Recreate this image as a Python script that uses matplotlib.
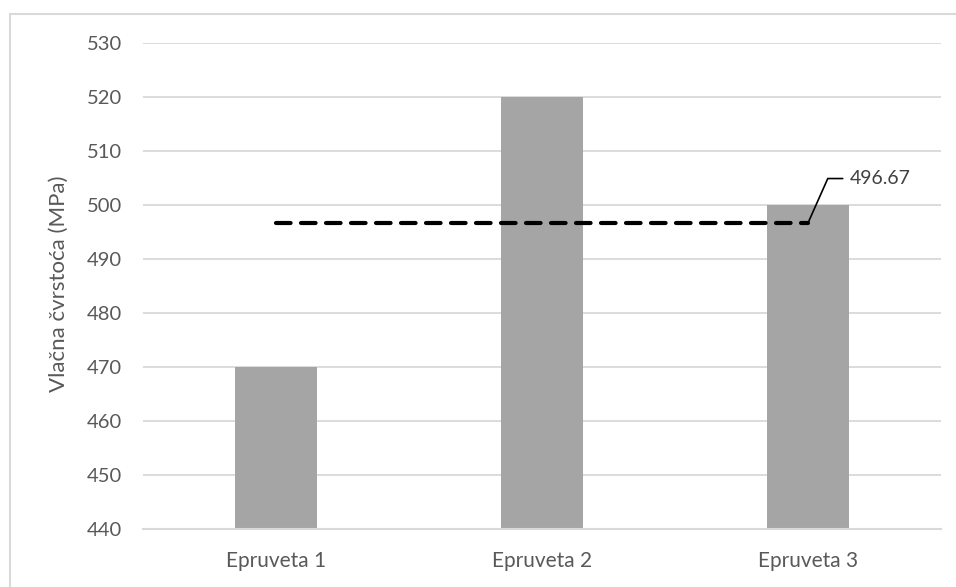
import matplotlib.pyplot as plt
from matplotlib.patches import Rectangle

categories = ["Epruveta 1", "Epruveta 2", "Epruveta 3"]
strength = [470, 520, 500]
average = 496.67
y_ticks = [440, 450, 460, 470, 480, 490, 500, 510, 520, 530]

plt.rcParams['font.family'] = ['Lato', 'DejaVu Sans']

fig = plt.figure(figsize=(9.56, 5.87), dpi=100)
fig.patch.set_facecolor("white")

# outer chart border (only top and left visible in the reference, rest is cropped)
fig.patches.append(Rectangle((10 / 956, -0.1), 1.2, 1 - 14 / 587 + 0.1,
                             transform=fig.transFigure, fill=False,
                             edgecolor="#d9d9d9", linewidth=1.5, zorder=0))

ax = fig.add_axes([143 / 956, 1 - 529 / 587, 798 / 956, 486 / 587])

x = list(range(len(categories)))
ax.bar(x, [v - y_ticks[0] for v in strength], bottom=y_ticks[0], width=0.31,
       color="#a5a5a5", zorder=2)

ax.plot([x[0], x[-1]], [average, average], color="black", linewidth=3,
        linestyle=(0, (3.5, 2.5)), dash_capstyle="round", zorder=3)

ax.annotate("%.2f" % average, xy=(x[-1], average), xytext=(30, 32),
            textcoords="offset points", ha="left", va="center",
            fontsize=14, color="#404040",
            arrowprops=dict(arrowstyle="-", color="black", linewidth=1.2,
                            shrinkA=3, shrinkB=0,
                            connectionstyle="angle,angleA=0,angleB=66,rad=0"))

ax.set_xlim(-0.5, 2.5)
ax.set_ylim(y_ticks[0], y_ticks[-1])
ax.set_yticks(y_ticks)
ax.set_xticks(x)
ax.set_xticklabels(categories)
ax.grid(axis="y", color="#d9d9d9", linewidth=1.3, zorder=0)
ax.set_axisbelow(True)

for side in ["top", "right", "left"]:
    ax.spines[side].set_visible(False)
ax.spines["bottom"].set_color("#d9d9d9")
ax.spines["bottom"].set_linewidth(1.5)

ax.tick_params(axis="y", length=0, pad=15, labelsize=14.5, labelcolor="#595959")
ax.tick_params(axis="x", length=0, pad=16, labelsize=15, labelcolor="#595959")

fig.text(59 / 956, 1 - 284 / 587, "Vlačna čvrstoća (MPa)", rotation=90,
         ha="center", va="center", fontsize=16, color="#595959")

fig.savefig("out.png", dpi=100)
